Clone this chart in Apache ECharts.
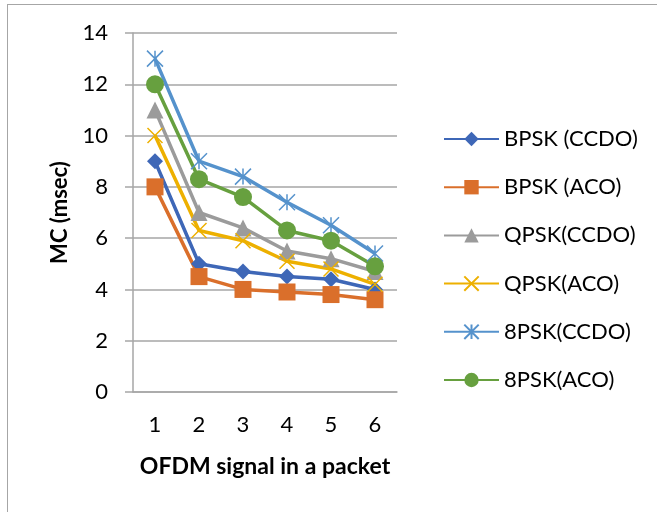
<!DOCTYPE html>
<html>
<head>
<meta charset="utf-8">
<script src="https://cdn.jsdelivr.net/npm/echarts@6/dist/echarts.min.js"></script>
<style>
  html, body { margin: 0; padding: 0; background: #fff; }
  #frame { position: absolute; left: 7px; top: 4px; width: 660px; height: 520px; border: 1px solid #a6a6a6; box-sizing: border-box; }
  #chart { position: absolute; left: 0; top: 0; width: 657px; height: 512px; }
</style>
</head>
<body>
<div id="frame"></div>
<div id="chart"></div>
<script>
// OFDM signals per packet
const categories = ['1', '2', '3', '4', '5', '6'];

// MC (msec) per scheme
const bpskCcdo = [9, 5, 4.7, 4.5, 4.4, 4.0];
const bpskAco  = [8, 4.5, 4.0, 3.9, 3.8, 3.6];
const qpskCcdo = [11, 7, 6.4, 5.5, 5.2, 4.7];
const qpskAco  = [10, 6.3, 5.9, 5.1, 4.8, 4.2];
const psk8Ccdo = [13, 9, 8.4, 7.4, 6.5, 5.4];
const psk8Aco  = [12, 8.3, 7.6, 6.3, 5.9, 4.9];

const seriesNames = ['BPSK (CCDO)', 'BPSK (ACO)', 'QPSK(CCDO)', 'QPSK(ACO)', '8PSK(CCDO)', '8PSK(ACO)'];
const seriesData = [bpskCcdo, bpskAco, qpskCcdo, qpskAco, psk8Ccdo, psk8Aco];
const colors = ['#3E67B7', '#DA6F2B', '#9B9B9B', '#EDB000', '#5592CC', '#67A03F'];

// stroke-only markers: an "x" and a star (x plus a vertical bar)
const crossPath = 'path://M0,0L10,10M10,0L0,10';
const starPath = 'path://M5,0L5,10M0,0L10,10M10,0L0,10';
const symbols = ['diamond', 'rect', 'triangle', crossPath, starPath, 'circle'];
const symbolSizes = [16, 17, 17, 15, 16, 18];
const strokeOnly = [false, false, false, true, true, false];

const font = 'Lato, "Open Sans", sans-serif';

const chart = echarts.init(document.getElementById('chart'));
chart.setOption({
  animation: false,
  color: colors,
  grid: { left: 133, right: 260, top: 33, bottom: 120 },
  legend: {
    orient: 'vertical',
    left: 438,
    top: 121,
    itemWidth: 55,
    itemHeight: 18,
    itemGap: 22.2,
    textStyle: { fontFamily: font, fontSize: 22, lineHeight: 26, color: '#000' },
    data: seriesNames
  },
  xAxis: {
    type: 'category',
    data: categories,
    boundaryGap: true,
    name: 'OFDM signal in a packet',
    nameLocation: 'middle',
    nameGap: 63,
    nameTextStyle: { fontFamily: font, fontSize: 23, fontWeight: 'bold', color: '#000' },
    axisLine: { lineStyle: { color: '#a6a6a6', width: 1.5 } },
    axisTick: { show: false },
    axisLabel: { fontFamily: font, fontSize: 22, color: '#000', margin: 22 }
  },
  yAxis: {
    type: 'value',
    min: 0,
    max: 14,
    interval: 2,
    name: 'MC (msec)',
    nameLocation: 'middle',
    nameGap: 62,
    nameTextStyle: { fontFamily: font, fontSize: 22, fontWeight: 'bold', color: '#000' },
    axisLine: { show: true, lineStyle: { color: '#a6a6a6', width: 1.5 } },
    axisTick: { show: true, length: 8, lineStyle: { color: '#a6a6a6', width: 1.5 } },
    axisLabel: { fontFamily: font, fontSize: 22, color: '#000', margin: 25 },
    splitLine: { lineStyle: { color: '#a6a6a6', width: 1.5 } }
  },
  series: seriesNames.map((n, i) => ({
    name: n,
    type: 'line',
    data: seriesData[i],
    symbol: symbols[i],
    symbolSize: symbolSizes[i],
    showAllSymbol: true,
    lineStyle: { color: colors[i], width: 3.5 },
    itemStyle: strokeOnly[i]
      ? { color: 'none', borderColor: colors[i], borderWidth: 1.5 }
      : { color: colors[i], borderWidth: 0 },
    emphasis: { disabled: true }
  }))
});
</script>
</body>
</html>
